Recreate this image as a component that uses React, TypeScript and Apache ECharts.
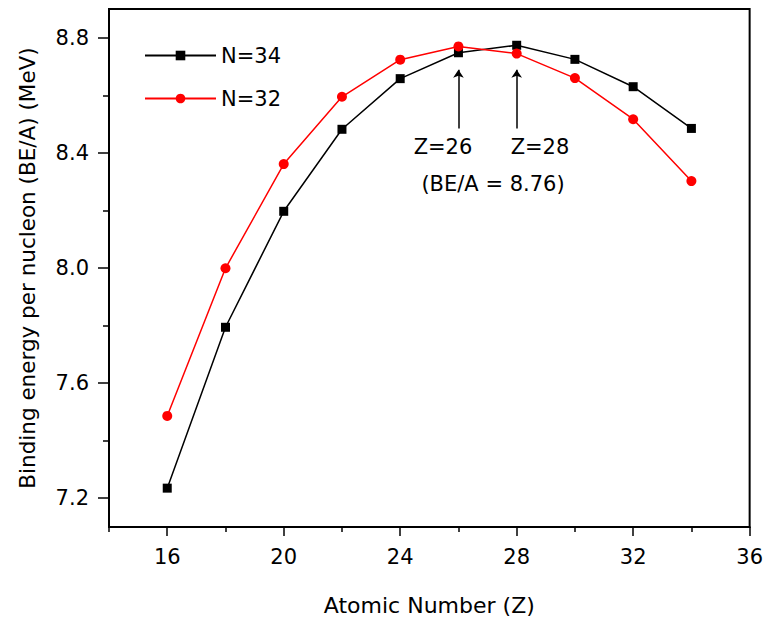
import React, { useEffect, useRef } from "react";
import * as echarts from "echarts";

const zValues = [16, 18, 20, 22, 24, 26, 28, 30, 32, 34];
const beN34 = [7.235, 7.794, 8.197, 8.482, 8.658, 8.748, 8.774, 8.725, 8.630, 8.485];
const beN32 = [7.486, 7.999, 8.361, 8.595, 8.724, 8.770, 8.745, 8.660, 8.517, 8.302];
const seriesNames = ["N=34", "N=32"];
const xMajorTicks = [16, 20, 24, 28, 32, 36];
const xMinorTicks = [14, 18, 22, 26, 30, 34];
const yMajorTicks = [7.2, 7.6, 8.0, 8.4, 8.8];
const yMinorTicks = [7.4, 7.8, 8.2, 8.6];
const arrowZ = [26, 28];
const arrowFrom = 8.485;
const arrowTo = 8.689;
const annotationTexts = ["Z=26", "Z=28", "(BE/A = 8.76)"];

const FONT = "DejaVu Sans";

export default function App() {
  const ref = useRef<HTMLDivElement>(null);
  useEffect(() => {
    if (!ref.current) return;
    const chart = echarts.init(ref.current, null, { renderer: "svg" });
    const d34 = zValues.map((z, i) => [z, beN34[i]]);
    const d32 = zValues.map((z, i) => [z, beN32[i]]);
    chart.setOption({
      animation: false,
      backgroundColor: "#fff",
      textStyle: { fontFamily: FONT, color: "#000" },
      grid: {
        left: 109,
        top: 9,
        right: 14,
        bottom: 91,
        show: true,
        borderColor: "#000",
        borderWidth: 2,
        backgroundColor: "transparent",
      },
      legend: {
        left: 139,
        top: 40,
        orient: "vertical",
        itemWidth: 71,
        itemHeight: 12,
        itemGap: 22,
        data: seriesNames,
        textStyle: { fontFamily: FONT, fontSize: 21, color: "#000" },
      },
      xAxis: [
        {
          type: "value",
          min: 14,
          max: 36,
          name: "Atomic Number (Z)",
          nameLocation: "middle",
          nameGap: 67,
          nameTextStyle: { fontFamily: FONT, fontSize: 22, color: "#000" },
          axisLine: { show: true, lineStyle: { color: "#000", width: 2 } },
          axisTick: { show: true, inside: false, length: 9, customValues: xMajorTicks, lineStyle: { color: "#000", width: 1.5 } },
          axisLabel: { customValues: xMajorTicks, margin: 19, fontFamily: FONT, fontSize: 21, color: "#000" },
          splitLine: { show: false },
        },
        {
          type: "value",
          min: 14,
          max: 36,
          position: "bottom",
          axisLine: { show: false },
          axisTick: { show: true, inside: false, length: 5, customValues: xMinorTicks, lineStyle: { color: "#000", width: 1.5 } },
          axisLabel: { show: false },
          splitLine: { show: false },
        },
      ],
      yAxis: [
        {
          type: "value",
          min: 7.1,
          max: 8.9,
          name: "Binding energy per nucleon (BE/A) (MeV)",
          nameLocation: "middle",
          nameGap: 71,
          nameTextStyle: { fontFamily: FONT, fontSize: 21.5, color: "#000" },
          axisLine: { show: true, lineStyle: { color: "#000", width: 2 } },
          axisTick: { show: true, inside: false, length: 11, customValues: yMajorTicks, lineStyle: { color: "#000", width: 1.5 } },
          axisLabel: {
            customValues: yMajorTicks,
            margin: 20,
            fontFamily: FONT,
            fontSize: 21,
            color: "#000",
            formatter: (v: number) => v.toFixed(1),
          },
          splitLine: { show: false },
        },
        {
          type: "value",
          min: 7.1,
          max: 8.9,
          position: "left",
          axisLine: { show: false },
          axisTick: { show: true, inside: false, length: 6, customValues: yMinorTicks, lineStyle: { color: "#000", width: 1.5 } },
          axisLabel: { show: false },
          splitLine: { show: false },
        },
      ],
      series: [
        {
          name: seriesNames[0],
          type: "line",
          data: d34,
          xAxisIndex: 0,
          yAxisIndex: 0,
          symbol: "rect",
          symbolSize: 9,
          itemStyle: { color: "#000" },
          lineStyle: { color: "#000", width: 1.5 },
          markLine: {
            silent: true,
            symbol: ["none", "arrow"],
            symbolSize: 8,
            label: { show: false },
            lineStyle: { color: "#000", width: 1.5, type: "solid" },
            data: arrowZ.map((z) => [{ coord: [z, arrowFrom] }, { coord: [z, arrowTo] }]),
          },
        },
        {
          name: seriesNames[1],
          type: "line",
          data: d32,
          xAxisIndex: 0,
          yAxisIndex: 0,
          symbol: "circle",
          symbolSize: 10,
          itemStyle: { color: "#ff0000" },
          lineStyle: { color: "#ff0000", width: 1.5 },
        },
      ],
      graphic: [
        {
          type: "text",
          x: 443,
          y: 147,
          style: { text: annotationTexts[0], fontFamily: FONT, fontSize: 21, fill: "#000", align: "center", verticalAlign: "middle" },
        },
        {
          type: "text",
          x: 540,
          y: 147,
          style: { text: annotationTexts[1], fontFamily: FONT, fontSize: 21, fill: "#000", align: "center", verticalAlign: "middle" },
        },
        {
          type: "text",
          x: 493,
          y: 184,
          style: { text: annotationTexts[2], fontFamily: FONT, fontSize: 21, fill: "#000", align: "center", verticalAlign: "middle" },
        },
      ],
    });
    return () => chart.dispose();
  }, []);
  return (
    <div
      ref={ref}
      style={{ position: "fixed", left: 0, top: 0, width: 766, height: 621, background: "#fff" }}
    />
  );
}
